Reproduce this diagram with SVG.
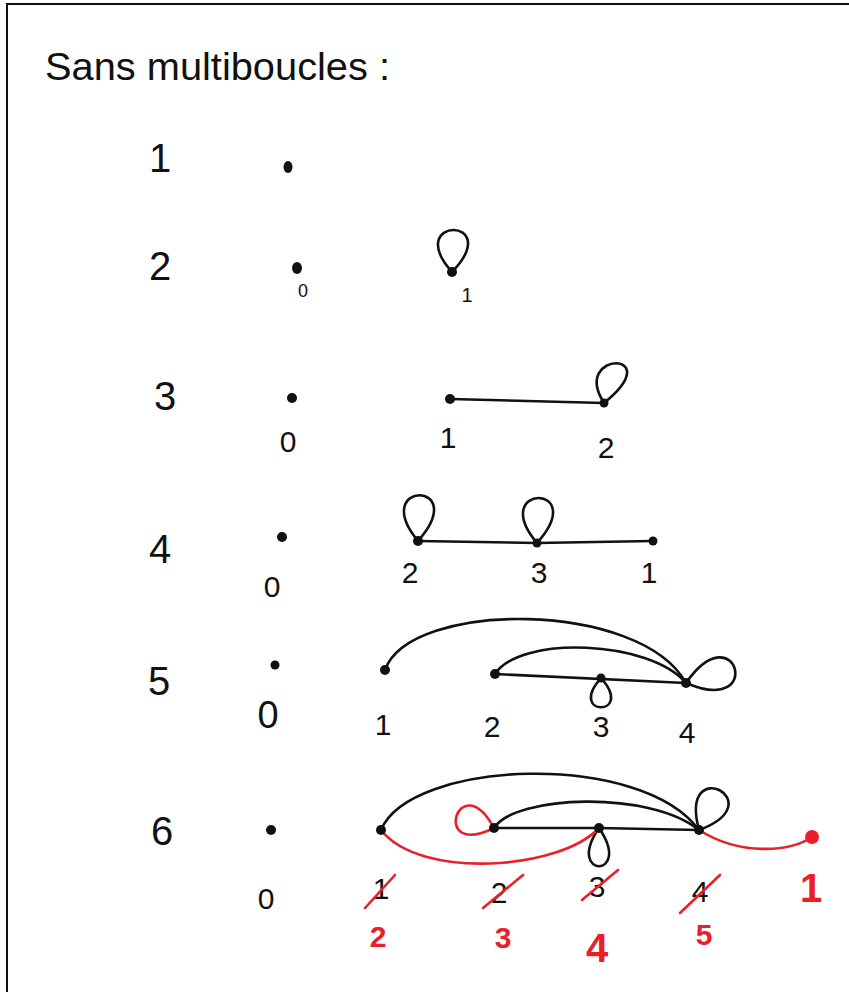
<svg xmlns="http://www.w3.org/2000/svg" width="849" height="992" viewBox="0 0 849 992">
<style>
  .t{font-family:"Liberation Sans","DejaVu Sans",sans-serif;fill:#111;text-anchor:middle}
  .rl{font-size:40px}
  .lb{font-size:30px}
  .r{fill:#e8202a;font-weight:bold}
  .e{fill:none;stroke:#111;stroke-width:2.6;stroke-linecap:round}
  .re{fill:none;stroke:#e8202a;stroke-width:2.6;stroke-linecap:round}
  .d{fill:#111}
  .rd{fill:#e8202a}
</style>
<rect width="849" height="992" fill="#fff"/>
<path d="M7,992 L7,4 L849,4" fill="none" stroke="#111" stroke-width="2"/>

<text x="45" y="80" class="t" style="text-anchor:start;font-size:38px" textLength="345" lengthAdjust="spacingAndGlyphs">Sans multiboucles :</text>

<g id="row-labels">
  <text x="160" y="172" class="t rl">1</text>
  <text x="160" y="280" class="t rl">2</text>
  <text x="165" y="410" class="t rl">3</text>
  <text x="160" y="563" class="t rl">4</text>
  <text x="159" y="695" class="t rl">5</text>
  <text x="162" y="845" class="t rl">6</text>
</g>

<g id="connectors">
  <!-- row 2 -->
  <path class="e" d="M452,272 C402,216 506,216 452,272"/>
  <!-- row 3 -->
  <path class="e" d="M450,399 L604,403"/>
  <path class="e" d="M604,403 C570,350 670,350 604,403"/>
  <!-- row 4 -->
  <path class="e" d="M418,541 L537,543 L653,541"/>
  <path class="e" d="M418,541 C368,480 472,480 418,541"/>
  <path class="e" d="M537,543 C487,483 591,483 537,543"/>
  <!-- row 5 -->
  <path class="e" d="M385,670 C410,600 640,600 686,683"/>
  <path class="e" d="M495,674 C520,635 650,640 686,683"/>
  <path class="e" d="M495,674 L686,683"/>
  <path class="e" d="M601,678 C566,717 636,717 601,678"/>
  <path class="e" d="M686,683 C736,611 766,717 686,683"/>
  <!-- row 6 black -->
  <path class="e" d="M381,830 C410,760 640,750 699,830"/>
  <path class="e" d="M494,828 C515,795 650,790 699,830"/>
  <path class="e" d="M494,828 L599,828 L699,830"/>
  <path class="e" d="M599,828 C564,879 634,879 599,828"/>
  <path class="e" d="M699,830 C678,752 775,802 699,830"/>
  <!-- row 6 red -->
  <path class="re" d="M494,828 C429,860 459,764 494,828"/>
  <path class="re" d="M381,830 C420,880 560,870 599,828"/>
  <path class="re" d="M699,830 C740,856 790,852 812,837"/>
</g>

<g id="r1-n0"><ellipse class="d" cx="288" cy="167" rx="4.5" ry="6"/></g>

<g id="r2-n0"><ellipse class="d" cx="297" cy="268" rx="5" ry="6"/><text x="303" y="297" class="t" style="font-size:18px">0</text></g>
<g id="r2-n1"><circle class="d" cx="452" cy="272" r="5"/><text x="467" y="302" class="t" style="font-size:20px">1</text></g>

<g id="r3-n0"><circle class="d" cx="292" cy="398" r="5"/><text x="288" y="452" class="t lb">0</text></g>
<g id="r3-n1"><circle class="d" cx="450" cy="399" r="5"/><text x="448" y="448" class="t lb">1</text></g>
<g id="r3-n2"><circle class="d" cx="604" cy="403" r="4.5"/><text x="606" y="458" class="t lb">2</text></g>

<g id="r4-n0"><circle class="d" cx="282" cy="537" r="5"/><text x="272" y="597" class="t lb">0</text></g>
<g id="r4-n2"><circle class="d" cx="418" cy="541" r="5"/><text x="410" y="583" class="t lb">2</text></g>
<g id="r4-n3"><circle class="d" cx="537" cy="543" r="4.5"/><text x="539" y="583" class="t lb">3</text></g>
<g id="r4-n1"><circle class="d" cx="653" cy="541" r="4.5"/><text x="649" y="583" class="t lb">1</text></g>

<g id="r5-n0"><circle class="d" cx="275" cy="665" r="4.5"/><text x="268" y="728" class="t" style="font-size:38px">0</text></g>
<g id="r5-n1"><circle class="d" cx="385" cy="670" r="5"/><text x="383" y="735" class="t lb">1</text></g>
<g id="r5-n2"><circle class="d" cx="495" cy="674" r="5"/><text x="492" y="737" class="t lb">2</text></g>
<g id="r5-n3"><circle class="d" cx="601" cy="678" r="4.5"/><text x="601" y="737" class="t lb">3</text></g>
<g id="r5-n4"><circle class="d" cx="686" cy="683" r="5"/><text x="687" y="743" class="t lb">4</text></g>

<g id="r6-n0"><circle class="d" cx="271" cy="830" r="5"/><text x="266" y="909" class="t lb">0</text></g>
<g id="r6-n1"><circle class="d" cx="381" cy="830" r="5"/>
  <text x="381" y="899" class="t lb">1</text>
  <path class="re" d="M365,908 L395,875"/>
  <text x="378" y="947" class="t lb r">2</text></g>
<g id="r6-n2"><circle class="d" cx="494" cy="828" r="5"/>
  <text x="499" y="903" class="t lb">2</text>
  <path class="re" d="M483,908 L523,875"/>
  <text x="503" y="948" class="t lb r">3</text></g>
<g id="r6-n3"><circle class="d" cx="599" cy="828" r="5"/>
  <text x="597" y="897" class="t lb">3</text>
  <path class="re" d="M582,900 L618,870"/>
  <text x="597" y="962" class="t r" style="font-size:40px">4</text></g>
<g id="r6-n4"><circle class="d" cx="699" cy="830" r="5"/>
  <text x="700" y="902" class="t lb">4</text>
  <path class="re" d="M680,913 L720,875"/>
  <text x="704" y="945" class="t lb r">5</text></g>
<g id="r6-n5"><circle class="rd" cx="812" cy="837" r="7"/>
  <text x="811" y="902" class="t r" style="font-size:40px">1</text></g>
</svg>
